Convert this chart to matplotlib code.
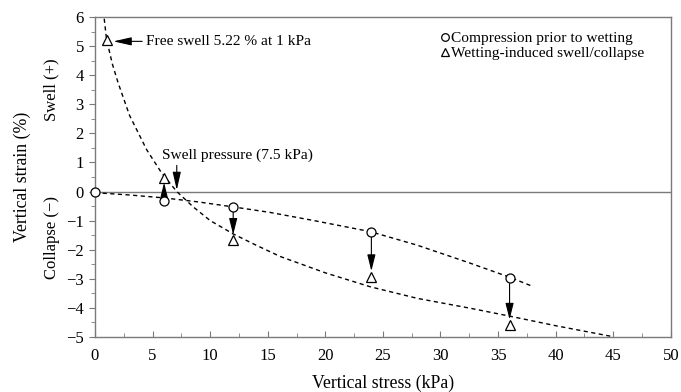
import matplotlib
matplotlib.use("Agg")
import matplotlib.pyplot as plt
from matplotlib.lines import Line2D
from matplotlib.ticker import MultipleLocator

plt.rcParams['font.family'] = ['Liberation Serif', 'DejaVu Serif']

# Data
stress_before = [0, 6, 12, 24, 36]
strain_before = [0.0, -0.33, -0.52, -1.38, -2.98]
stress_wet = [1, 6, 12, 24, 36]
strain_wet = [5.22, 0.45, -1.68, -2.93, -4.60]

# Trend curves
upper_x = [0, 3, 6, 9, 12, 15.2, 19, 23.9, 28, 32.6, 36, 37.9]
upper_y = [-0.04, -0.12, -0.22, -0.36, -0.53, -0.72, -1.0, -1.38, -1.85, -2.47, -2.95, -3.25]
lower_x = [0.8, 1.0, 1.5, 2.0, 3.0, 4.5, 5.8, 7.1, 8.5, 10.0, 12.0, 14.0, 16.1, 20, 23.9, 28, 32.6, 36, 40, 45]
lower_y = [5.95, 5.25, 4.4, 3.75, 2.62, 1.43, 0.63, 0.0, -0.52, -1.0, -1.46, -1.85, -2.24, -2.8, -3.28, -3.68, -4.02, -4.29, -4.62, -5.0]

fig = plt.figure(figsize=(6.81, 3.92), dpi=100)
ax = fig.add_axes([0.1395, 0.141, 0.8455, 0.815])

ax.set_xlim(0, 50)
ax.set_ylim(-5, 6)

spine_c = '#7a7a7a'
for s in ax.spines.values():
    s.set_color(spine_c)
    s.set_linewidth(1.0)

ax.axhline(0, color='#7a7a7a', lw=1.0, zorder=1)

ax.plot(upper_x, upper_y, ls=(0, (3, 2.5)), color='black', lw=1.0, zorder=2)
ax.plot(lower_x, lower_y, ls=(0, (3, 2.5)), color='black', lw=1.0, zorder=2)

# arrows from compression point to wetting point
for xb, yb in zip(stress_before, strain_before):
    if xb in stress_wet:
        yw = strain_wet[stress_wet.index(xb)]
        shrinkB = 4.0 if yw < yb else 3.0
        ax.annotate('', xy=(xb, yw), xytext=(xb, yb),
                    arrowprops=dict(arrowstyle='-|>,head_length=1.0,head_width=0.25',
                                    mutation_scale=10, color='black', lw=0.8,
                                    shrinkA=4, shrinkB=shrinkB),
                    zorder=3)

ax.plot(stress_before, strain_before, 'o', ms=6.5, mfc='white', mec='black', mew=0.9,
        zorder=4, clip_on=False)
ax.plot(stress_wet, strain_wet, '^', ms=7, mfc='white', mec='black', mew=0.9, zorder=4,
        clip_on=False)

# annotations
ax.annotate('', xy=(1.6, 5.17), xytext=(4.1, 5.17),
            arrowprops=dict(arrowstyle='-|>,head_length=1.1,head_width=0.25',
                            mutation_scale=10, color='black', lw=0.8, shrinkA=0, shrinkB=0))
ax.text(4.4, 5.17, 'Free swell 5.22 % at 1 kPa', fontsize=11.1, va='center', ha='left')

ax.annotate('', xy=(7.1, 0.05), xytext=(7.1, 0.9),
            arrowprops=dict(arrowstyle='-|>,head_length=1.1,head_width=0.25',
                            mutation_scale=10, color='black', lw=0.8, shrinkA=0, shrinkB=0))
ax.text(5.8, 1.25, 'Swell pressure (7.5 kPa)', fontsize=11.1, va='center', ha='left')

# legend
handles = [Line2D([], [], ls='none', marker='o', ms=5.5, mfc='white', mec='black', mew=0.9),
           Line2D([], [], ls='none', marker='^', ms=6, mfc='white', mec='black', mew=0.9)]
ax.legend(handles, ['Compression prior to wetting', 'Wetting-induced swell/collapse'],
          loc='upper right', bbox_to_anchor=(0.97, 0.985), frameon=False, fontsize=11.1,
          handlelength=0.5, handletextpad=0.15, labelspacing=0.1, borderaxespad=0.2)

# ticks
ax.xaxis.set_major_locator(MultipleLocator(5))
ax.xaxis.set_minor_locator(MultipleLocator(2.5))
ax.yaxis.set_major_locator(MultipleLocator(1))
ax.yaxis.set_minor_locator(MultipleLocator(0.5))
ax.tick_params(axis='x', which='both', direction='in', colors=spine_c, labelcolor='black', labelsize=12, pad=8)
ax.tick_params(axis='x', which='major', length=4)
ax.tick_params(axis='x', which='minor', length=3)
ax.tick_params(axis='y', which='both', direction='out', colors=spine_c, labelcolor='black', labelsize=12, pad=4)
ax.tick_params(axis='y', which='major', length=4)
ax.tick_params(axis='y', which='minor', length=3)

ax.set_xlabel('Vertical stress (kPa)', fontsize=12.8)
ax.set_ylabel('Vertical strain (%)', fontsize=12.8)
ax.xaxis.set_label_coords(0.5, -0.12)
ax.yaxis.set_label_coords(-0.112, 0.5)

ax.text(-0.075, 3.5, 'Swell (+)', transform=ax.get_yaxis_transform(), rotation=90,
        fontsize=12, va='center', ha='center')
ax.text(-0.075, -1.6, 'Collapse (\u2212)', transform=ax.get_yaxis_transform(), rotation=90,
        fontsize=12, va='center', ha='center')

fig.savefig('out.png', dpi=100)
